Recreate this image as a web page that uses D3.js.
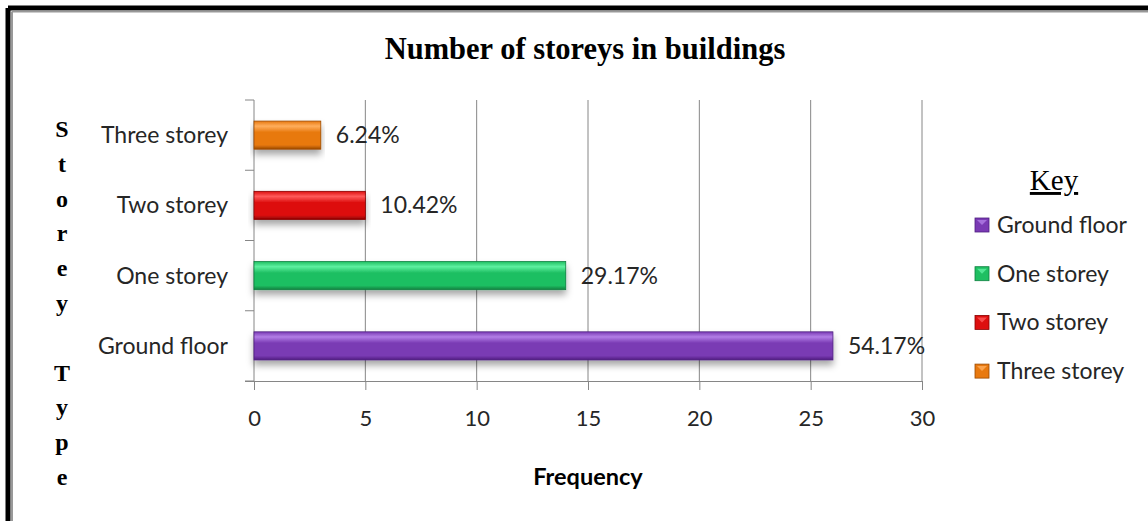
<!DOCTYPE html>
<html>
<head>
<meta charset="utf-8">
<script src="https://cdn.jsdelivr.net/npm/d3@7"></script>
<style>
  body { margin: 0; background: #fff; }
  .tick text { font-family: Lato, "Open Sans", sans-serif; font-size: 22px; fill: #262626; }
  .label { font-family: Lato, "Open Sans", sans-serif; font-size: 23px; fill: #262626; }
  .serif { font-family: "Liberation Serif", "DejaVu Serif", serif; font-weight: bold; fill: #000; }
</style>
</head>
<body>
<div id="chart"></div>
<script>
    let categories = ["Ground floor", "One storey", "Two storey", "Three storey"];
    let frequency = [26, 14, 5, 3];
    let percentLabels = ["54.17%", "29.17%", "10.42%", "6.24%"];
    let xTicks = [0, 5, 10, 15, 20, 25, 30];
    let colors = [
        {light: "#b27ee6", main: "#7a3ab4", dark: "#4f1f80"},
        {light: "#5ef0a0", main: "#1fbf62", dark: "#0e8040"},
        {light: "#ff5a5a", main: "#dd0f0f", dark: "#8a0000"},
        {light: "#ffae5c", main: "#e8790f", dark: "#9c4a00"}
    ];
    let axisLetters = ["S", "t", "o", "r", "e", "y", "", "T", "y", "p", "e"];

    let W = 1148, H = 521;
    let margin = {top: 100, left: 254, right: 226, bottom: 140};
    let width = W - margin.left - margin.right,
        height = H - margin.top - margin.bottom;

    let root = d3.select("#chart")
        .append("svg")
        .attr("width", W)
        .attr("height", H);

    let defs = root.append("defs");
    colors.forEach((c, i) => {
        let g = defs.append("linearGradient")
            .attr("id", "grad" + i)
            .attr("x1", 0).attr("y1", 0).attr("x2", 0).attr("y2", 1);
        g.append("stop").attr("offset", "0%").attr("stop-color", c.main);
        g.append("stop").attr("offset", "18%").attr("stop-color", c.light);
        g.append("stop").attr("offset", "40%").attr("stop-color", c.main);
        g.append("stop").attr("offset", "85%").attr("stop-color", c.main);
        g.append("stop").attr("offset", "100%").attr("stop-color", c.dark);
    });
    let shadow = defs.append("filter").attr("id", "shadow")
        .attr("x", "-5%").attr("y", "-20%").attr("width", "110%").attr("height", "200%");
    shadow.append("feDropShadow")
        .attr("dx", 0).attr("dy", 5).attr("stdDeviation", 3.5)
        .attr("flood-color", "#000").attr("flood-opacity", 0.35);

    // page border
    root.append("line").attr("x1", 8).attr("x2", W).attr("y1", 8).attr("y2", 8)
        .attr("stroke", "#000").attr("stroke-width", 5);
    root.append("line").attr("x1", 8).attr("x2", 8).attr("y1", 8).attr("y2", H)
        .attr("stroke", "#000").attr("stroke-width", 5);
    root.append("line").attr("x1", 12).attr("x2", W).attr("y1", 11.5).attr("y2", 11.5)
        .attr("stroke", "#999").attr("stroke-width", 2);
    root.append("line").attr("x1", 12).attr("x2", 12).attr("y1", 11.5).attr("y2", H)
        .attr("stroke", "#999").attr("stroke-width", 2);

    // title
    root.append("text")
        .attr("class", "serif")
        .attr("x", 585)
        .attr("y", 59)
        .attr("text-anchor", "middle")
        .style("font-size", "30.5px")
        .text("Number of storeys in buildings");

    // vertical stacked y title
    root.selectAll(".yLetter")
        .data(axisLetters)
        .join("text")
        .attr("class", "serif yLetter")
        .attr("x", 62)
        .attr("y", (d, i) => 137 + i * 34.8)
        .attr("text-anchor", "middle")
        .style("font-size", "24px")
        .text(d => d);

    let svg = root.append("g")
        .attr("transform", `translate(${margin.left}, ${margin.top})`);

    let x = d3.scaleLinear()
        .domain([0, 30])
        .range([0, width]);
    let y = d3.scaleBand()
        .domain(categories.slice().reverse())
        .range([0, height])
        .paddingInner(0.6)
        .paddingOuter(0.3);

    // gridlines
    svg.selectAll(".grid")
        .data(xTicks.slice(1))
        .join("line")
        .attr("x1", d => x(d)).attr("x2", d => x(d))
        .attr("y1", 0).attr("y2", height)
        .attr("stroke", "#868686").attr("stroke-width", 1);

    // x axis
    let xAxis = svg.append("g")
        .attr("transform", `translate(0, ${height})`)
        .call(d3.axisBottom(x).tickValues(xTicks).tickSize(9).tickPadding(20));
    xAxis.select(".domain").attr("stroke", "#868686").attr("d", `M-9,0.5H${width}`);
    xAxis.selectAll(".tick line").attr("stroke", "#868686");

    // y axis with ticks between categories
    let yAxis = svg.append("g");
    yAxis.append("line")
        .attr("x1", 0).attr("x2", 0).attr("y1", 0).attr("y2", height)
        .attr("stroke", "#868686");
    let step = height / categories.length;
    yAxis.selectAll(".ytick")
        .data(d3.range(categories.length + 1))
        .join("line")
        .attr("x1", -9).attr("x2", 0)
        .attr("y1", d => d * step).attr("y2", d => d * step)
        .attr("stroke", "#868686");
    yAxis.selectAll(".ylabel")
        .data(categories)
        .join("text")
        .attr("class", "label")
        .attr("x", -26)
        .attr("y", d => y(d) + y.bandwidth() / 2)
        .attr("dy", "0.35em")
        .attr("text-anchor", "end")
        .text(d => d);

    // bars
    svg.selectAll(".bar")
        .data(categories)
        .join("rect")
        .attr("class", "bar")
        .attr("x", x(0))
        .attr("y", d => y(d))
        .attr("width", (d, i) => x(frequency[i]) - x(0))
        .attr("height", y.bandwidth())
        .attr("fill", (d, i) => `url(#grad${i})`)
        .attr("stroke", (d, i) => colors[i].dark)
        .attr("stroke-width", 0.8)
        .attr("filter", "url(#shadow)");

    // value labels
    svg.selectAll(".plotText")
        .data(categories)
        .join("text")
        .attr("class", "label")
        .attr("x", (d, i) => x(frequency[i]) + 15)
        .attr("y", d => y(d) + y.bandwidth() / 2)
        .attr("dy", "0.35em")
        .text((d, i) => percentLabels[i]);

    // x title
    root.append("text")
        .attr("class", "label")
        .attr("x", 588)
        .attr("y", 485)
        .attr("text-anchor", "middle")
        .style("font-weight", "bold")
        .style("font-size", "23.5px")
        .style("fill", "#000")
        .text("Frequency");

    // legend
    root.append("text")
        .attr("class", "serif")
        .attr("x", 1054)
        .attr("y", 190)
        .attr("text-anchor", "middle")
        .style("font-weight", "normal")
        .style("font-size", "29px")
        .style("text-decoration", "underline")
        .text("Key");
    let legend = root.selectAll(".legendItem")
        .data(categories)
        .join("g")
        .attr("transform", (d, i) => `translate(975, ${225 + i * 48.7})`);
    legend.append("rect")
        .attr("x", 0).attr("y", -7)
        .attr("width", 14).attr("height", 14)
        .attr("fill", (d, i) => colors[i].main)
        .attr("stroke", (d, i) => colors[i].dark)
        .attr("stroke-width", 0.8);
    legend.append("path")
        .attr("d", "M2,-5 L12,-5 L7,0 Z")
        .attr("fill", (d, i) => colors[i].light)
        .attr("opacity", 0.8);
    legend.append("text")
        .attr("class", "label")
        .attr("x", 22)
        .attr("dy", "0.35em")
        .text(d => d);
</script>
</body>
</html>
